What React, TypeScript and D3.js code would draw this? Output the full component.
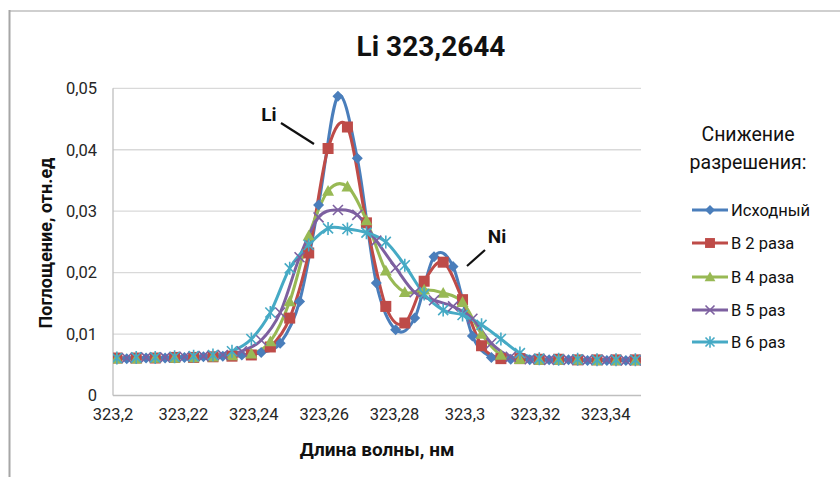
import React from 'react';
import * as d3 from 'd3';

// wavelength grids (nm): two sampling offsets
const gridA = [323.1984, 323.2039, 323.2094, 323.2148, 323.2203, 323.2257, 323.2312, 323.2366, 323.2421, 323.2475,
  323.2530, 323.2584, 323.2639, 323.2694, 323.2748, 323.2803, 323.2857, 323.2912, 323.2966, 323.3021,
  323.3075, 323.3130, 323.3184, 323.3239, 323.3294, 323.3348, 323.3403, 323.3457, 323.3512, 323.3566];
const gridB = [323.1956, 323.2011, 323.2066, 323.2120, 323.2175, 323.2229, 323.2284, 323.2338, 323.2393, 323.2447,
  323.2502, 323.2556, 323.2611, 323.2666, 323.2720, 323.2775, 323.2829, 323.2884, 323.2938, 323.2993,
  323.3047, 323.3102, 323.3156, 323.3211, 323.3266, 323.3320, 323.3375, 323.3429, 323.3484, 323.3538];

const original = [0.0060, 0.0060, 0.0061, 0.0061, 0.0062, 0.0063, 0.0064, 0.0066, 0.0070, 0.0085, 0.0153, 0.0310,
  0.0487, 0.0386, 0.0183, 0.0107, 0.0126, 0.0226, 0.0210, 0.0097, 0.0062, 0.0059, 0.0058, 0.0058, 0.0058, 0.0057,
  0.0057, 0.0057, 0.0057, 0.0057];
const times2 = [0.0061, 0.0061, 0.0061, 0.0061, 0.0062, 0.0062, 0.0063, 0.0064, 0.0066, 0.0079, 0.0126, 0.0232,
  0.0402, 0.0437, 0.0281, 0.0145, 0.0118, 0.0186, 0.0217, 0.0156, 0.0081, 0.0060, 0.0060, 0.0059, 0.0059, 0.0058,
  0.0058, 0.0058, 0.0058, 0.0058];
const times4 = [0.0060, 0.0060, 0.0060, 0.0061, 0.0061, 0.0062, 0.0063, 0.0065, 0.0068, 0.0088, 0.0153, 0.0260,
  0.0333, 0.0340, 0.0285, 0.0203, 0.0168, 0.0172, 0.0167, 0.0152, 0.0100, 0.0066, 0.0059, 0.0058, 0.0058, 0.0058,
  0.0057, 0.0057, 0.0057, 0.0057];
const times5 = [0.0061, 0.0061, 0.0062, 0.0062, 0.0063, 0.0064, 0.0066, 0.0072, 0.0090, 0.0135, 0.0225, 0.0290,
  0.0302, 0.0294, 0.0252, 0.0208, 0.0168, 0.0155, 0.0145, 0.0125, 0.0085, 0.0063, 0.0059, 0.0058, 0.0058, 0.0058,
  0.0058, 0.0057, 0.0057, 0.0057];
const times6 = [0.0061, 0.0061, 0.0062, 0.0062, 0.0063, 0.0064, 0.0066, 0.0072, 0.0092, 0.0135, 0.0207, 0.0245,
  0.0272, 0.0271, 0.0265, 0.0250, 0.0212, 0.0165, 0.0139, 0.0131, 0.0115, 0.0092, 0.0069, 0.0060, 0.0059, 0.0059,
  0.0058, 0.0058, 0.0058, 0.0058];

const seriesNames = ['Исходный', 'В 2 раза', 'В 4 раза', 'В 5 раз', 'В 6 раз'];
const seriesColors = ['#4A7EBB', '#BE4B48', '#98B954', '#7D60A0', '#46AAC5'];
const markerKinds = ['diamond', 'square', 'triangle', 'x', 'star'];

const xTicks = [323.2, 323.22, 323.24, 323.26, 323.28, 323.3, 323.32, 323.34];
const yTicks = [0, 0.01, 0.02, 0.03, 0.04, 0.05];

const FONT = 'Roboto, "Open Sans", sans-serif';

function Marker({ kind, cx, cy, color, s = 1 }: { kind: string; cx: number; cy: number; color: string; s?: number }) {
  if (kind === 'diamond') {
    const r = 5.5 * s;
    return <path d={`M${cx},${cy - r}L${cx + r},${cy}L${cx},${cy + r}L${cx - r},${cy}Z`} fill={color} />;
  }
  if (kind === 'square') {
    const r = 5.5 * s;
    return <rect x={cx - r} y={cy - r} width={2 * r} height={2 * r} fill={color} />;
  }
  if (kind === 'triangle') {
    const r = 6 * s;
    return <path d={`M${cx},${cy - r}L${cx + r},${cy + r * 0.8}L${cx - r},${cy + r * 0.8}Z`} fill={color} />;
  }
  if (kind === 'x') {
    const r = 5 * s;
    return <path d={`M${cx - r},${cy - r}L${cx + r},${cy + r}M${cx - r},${cy + r}L${cx + r},${cy - r}`}
      stroke={color} strokeWidth={1.6} />;
  }
  const r = 5 * s;
  return <path d={`M${cx - r},${cy - r}L${cx + r},${cy + r}M${cx - r},${cy + r}L${cx + r},${cy - r}M${cx},${cy - r * 1.3}L${cx},${cy + r * 1.3}`}
    stroke={color} strokeWidth={1.6} />;
}

export default function App() {
  const x = d3.scaleLinear().domain([323.2, 323.35]).range([113, 641]);
  const y = d3.scaleLinear().domain([0, 0.05]).range([395.5, 88.3]);

  const series = [
    { xs: gridA, ys: original },
    { xs: gridB, ys: times2 },
    { xs: gridB, ys: times4 },
    { xs: gridA, ys: times5 },
    { xs: gridB, ys: times6 },
  ];

  const line = d3.line<[number, number]>()
    .x(d => x(d[0]))
    .y(d => y(d[1]))
    .curve(d3.curveCardinal.tension(0));

  const fmt = (v: number) => String(+v.toFixed(4)).replace('.', ',');
  const legendY = [210, 243, 277, 310, 342];

  return (
    <svg width={840} height={477} style={{ position: 'absolute', left: 0, top: 0, background: '#fff' }}
      fontFamily={FONT}>
      <defs>
        <clipPath id="plot-clip">
          <rect x={113} y={80} width={528} height={325} />
        </clipPath>
      </defs>

      {/* outer frame */}
      <line x1={9} y1={11} x2={840} y2={11} stroke="#cfcfcf" strokeWidth={2} />
      <line x1={9.5} y1={10} x2={9.5} y2={477} stroke="#a6a6a6" strokeWidth={2} />

      {/* gridlines */}
      {yTicks.map(t => (
        <line key={t} x1={113} x2={641} y1={y(t)} y2={y(t)} stroke={t === 0 ? '#bfbfbf' : '#d9d9d9'} strokeWidth={1.3} />
      ))}
      <line x1={113} x2={113} y1={y(0.05)} y2={y(0)} stroke="#bfbfbf" strokeWidth={1.3} />

      {/* y tick labels */}
      {yTicks.map(t => (
        <text key={t} x={97} y={y(t)} dy="0.35em" textAnchor="end" fontSize={16.5} fill="#262626">{fmt(t)}</text>
      ))}
      {/* x tick labels */}
      {xTicks.map(t => (
        <text key={t} x={x(t)} y={420} textAnchor="middle" fontSize={16.5} fill="#262626">{fmt(t)}</text>
      ))}

      {/* series */}
      <g clipPath="url(#plot-clip)">
        {series.map((s, i) => (
          <path key={i} d={line(s.xs.map((v, j) => [v, s.ys[j]] as [number, number])) || ''}
            fill="none" stroke={seriesColors[i]} strokeWidth={3} strokeLinejoin="round" />
        ))}
        {series.map((s, i) => s.xs.map((v, j) => (
          <Marker key={`${i}-${j}`} kind={markerKinds[i]} cx={x(v)} cy={y(s.ys[j])} color={seriesColors[i]} />
        )))}
      </g>

      {/* annotations */}
      <text x={269} y={121} textAnchor="middle" fontSize={19} fontWeight="bold" fill="#111">Li</text>
      <line x1={281} y1={123} x2={314} y2={144} stroke="#111" strokeWidth={2.2} />
      <text x={497} y={243} textAnchor="middle" fontSize={19} fontWeight="bold" fill="#111">Ni</text>
      <line x1={485} y1={250} x2={467} y2={266} stroke="#111" strokeWidth={2.2} />

      {/* title */}
      <text x={431} y={56} textAnchor="middle" fontSize={28} fontWeight="bold" fill="#111">Li 323,2644</text>

      {/* axis titles */}
      <text transform="translate(52,243) rotate(-90)" textAnchor="middle" fontSize={18} fontWeight="bold" fill="#111">
        Поглощение, отн.ед
      </text>
      <text x={377} y={456} textAnchor="middle" fontSize={19} fontWeight="bold" fill="#111">Длина волны, нм</text>

      {/* legend */}
      <text x={748} y={141} textAnchor="middle" fontSize={19.5} fill="#111">Снижение</text>
      <text x={748} y={169} textAnchor="middle" fontSize={19.5} fill="#111">разрешения:</text>
      {seriesNames.map((name, i) => (
        <g key={name}>
          <line x1={692} x2={728} y1={legendY[i]} y2={legendY[i]} stroke={seriesColors[i]} strokeWidth={3} />
          <Marker kind={markerKinds[i]} cx={710} cy={legendY[i]} color={seriesColors[i]} s={0.9} />
          <text x={731} y={legendY[i]} dy="0.35em" fontSize={16.5} fill="#111">{name}</text>
        </g>
      ))}
    </svg>
  );
}
